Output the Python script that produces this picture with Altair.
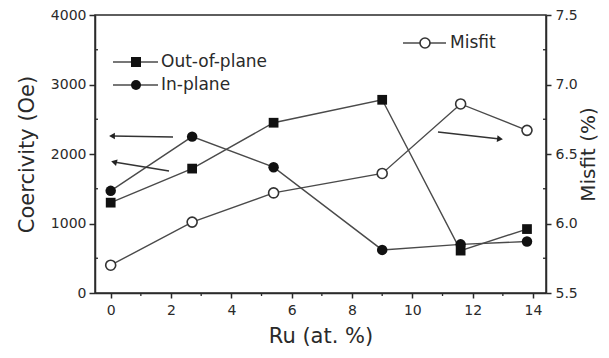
import altair as alt
import pandas as pd

# ---- data ----
ru = [0.0, 2.7, 5.4, 9.0, 11.6, 13.8]
out_of_plane = [1300, 1790, 2450, 2780, 610, 920]
in_plane = [1470, 2250, 1810, 620, 700, 740]
misfit = [5.70, 6.01, 6.22, 6.36, 6.86, 6.67]

x_ticks = [0, 2, 4, 6, 8, 10, 12, 14]
x_minor = [1, 3, 5, 7, 9, 11, 13]
left_ticks = [0, 1000, 2000, 3000, 4000]
left_minor = [500, 1500, 2500, 3500]
right_ticks = [5.5, 6.0, 6.5, 7.0, 7.5]
right_minor = [5.75, 6.25, 6.75, 7.25]

FONT = "DejaVu Sans"
INK = "#2a2a2a"
LINE = "#4a4a4a"

W, H = 451, 278
xdom = [-0.52, 14.43]

df_c = pd.DataFrame({"ru": ru, "out": out_of_plane, "inp": in_plane})
df_m = pd.DataFrame({"ru": ru, "misfit": misfit})

xscale = alt.Scale(domain=xdom, nice=False, zero=False)
x_enc = alt.X("ru:Q", scale=xscale, axis=alt.Axis(
    values=x_ticks, title="Ru (at. %)", format="d", grid=False,
    tickSize=5, tickWidth=1.5, tickColor=INK, labelPadding=5,
    titlePadding=8, domainColor=INK, domainWidth=1.5))

lscale = alt.Scale(domain=[0, 4000], nice=False, zero=False)
rscale = alt.Scale(domain=[5.5, 7.5], nice=False, zero=False)

left_axis = alt.Axis(values=left_ticks, title="Coercivity (Oe)", format="d",
                     grid=False, tickSize=6, tickWidth=1.5, tickColor=INK,
                     labelPadding=3, titlePadding=13, domainColor=INK,
                     domainWidth=1.5)
right_axis = alt.Axis(values=right_ticks, title="Misfit (%)", orient="right",
                      format=".1f", grid=False, tickSize=5, tickWidth=1.5,
                      tickColor=INK, labelPadding=4, titlePadding=1,
                      titleAngle=270, titleBaseline="top", titleFontSize=20,
                      domainColor=INK, domainWidth=1.5)

base_c = alt.Chart(df_c)
out_line = base_c.mark_line(color=LINE, strokeWidth=1.4).encode(
    x=x_enc, y=alt.Y("out:Q", scale=lscale, axis=left_axis))
out_pts = base_c.mark_point(shape="square", filled=True, color="#111", size=95, opacity=1).encode(
    x="ru:Q", y=alt.Y("out:Q", scale=lscale))
in_line = base_c.mark_line(color=LINE, strokeWidth=1.4).encode(
    x="ru:Q", y=alt.Y("inp:Q", scale=lscale))
in_pts = base_c.mark_point(shape="circle", filled=True, color="#111", size=110, opacity=1).encode(
    x="ru:Q", y=alt.Y("inp:Q", scale=lscale))

# minor ticks
df_xm = pd.DataFrame({"v": x_minor})
x_minor_rules = alt.Chart(df_xm).mark_rule(color=INK, strokeWidth=1.3).encode(
    x=alt.X("v:Q", scale=xscale), y=alt.value(H), y2=alt.value(H + 3))
df_lm = pd.DataFrame({"v": left_minor})
l_minor_rules = alt.Chart(df_lm).mark_rule(color=INK, strokeWidth=1.3).encode(
    y=alt.Y("v:Q", scale=lscale), x=alt.value(0), x2=alt.value(3))

# legend (left group)
leg = pd.DataFrame({
    "label": ["Out-of-plane", "In-plane"],
    "shape": ["square", "circle"],
    "ypix": [47, 70],
})
leg_lines = alt.Chart(leg).mark_rule(color=LINE, strokeWidth=1.4).encode(
    x=alt.value(18), x2=alt.value(63), y=alt.Y("ypix:Q", scale=None))
leg_pts = alt.Chart(leg).mark_point(filled=True, color="#111", opacity=1, size=100).encode(
    x=alt.value(41), y=alt.Y("ypix:Q", scale=None),
    shape=alt.Shape("shape:N", scale=None))
leg_txt = alt.Chart(leg).mark_text(align="left", baseline="middle", font=FONT,
                                   fontSize=17, color=INK).encode(
    x=alt.value(66), y=alt.Y("ypix:Q", scale=None), text="label:N")

# arrows (annotations)
arr = pd.DataFrame({
    "x1": [78, 74, 343], "y1": [122, 156, 117],
    "x2": [17, 19, 405], "y2": [121, 147, 124],
    "ang": [270, 284, 97],
})
arr_lines = alt.Chart(arr).mark_rule(color="#333", strokeWidth=1.6).encode(
    x=alt.X("x1:Q", scale=None), y=alt.Y("y1:Q", scale=None),
    x2="x2:Q", y2="y2:Q")
arr_heads = alt.Chart(arr).mark_point(shape="triangle-up", filled=True,
                                      color="#222", opacity=1, size=45).encode(
    x=alt.X("x2:Q", scale=None), y=alt.Y("y2:Q", scale=None),
    angle=alt.Angle("ang:Q", scale=None))

left_layer = alt.layer(out_line, in_line, out_pts, in_pts, x_minor_rules,
                       l_minor_rules, leg_lines, leg_pts, leg_txt,
                       arr_lines, arr_heads)

# misfit (right axis)
base_m = alt.Chart(df_m)
m_line = base_m.mark_line(color=LINE, strokeWidth=1.4).encode(
    x=alt.X("ru:Q", scale=xscale),
    y=alt.Y("misfit:Q", scale=rscale, axis=right_axis))
m_pts = base_m.mark_point(shape="circle", filled=True, fill="white",
                          stroke="#333", strokeWidth=1.6, size=100, opacity=1).encode(
    x="ru:Q", y=alt.Y("misfit:Q", scale=rscale))
df_rm = pd.DataFrame({"v": right_minor})
r_minor_rules = alt.Chart(df_rm).mark_rule(color=INK, strokeWidth=1.3).encode(
    y=alt.Y("v:Q", scale=rscale), x=alt.value(W - 3), x2=alt.value(W))

leg_m = pd.DataFrame({"label": ["Misfit"], "ypix": [28]})
mleg_line = alt.Chart(leg_m).mark_rule(color=LINE, strokeWidth=1.4).encode(
    x=alt.value(308), x2=alt.value(351), y=alt.Y("ypix:Q", scale=None))
mleg_pt = alt.Chart(leg_m).mark_point(shape="circle", filled=True, fill="white",
                                      stroke="#333", strokeWidth=1.6, size=100,
                                      opacity=1).encode(
    x=alt.value(330), y=alt.Y("ypix:Q", scale=None))
mleg_txt = alt.Chart(leg_m).mark_text(align="left", baseline="middle", font=FONT,
                                      fontSize=17, color=INK).encode(
    x=alt.value(355), y=alt.Y("ypix:Q", scale=None), text="label:N")

right_layer = alt.layer(m_line, m_pts, r_minor_rules, mleg_line, mleg_pt, mleg_txt)

chart = alt.layer(left_layer, right_layer).resolve_scale(
    y="independent"
).properties(
    width=W, height=H,
    autosize=alt.AutoSizeParams(type="none"),
    padding={"left": 87, "top": 7, "right": 55, "bottom": 57},
    background="white",
).configure_view(
    stroke=INK, strokeWidth=1.5
).configure_axis(
    labelFont=FONT, labelFontSize=14, labelColor=INK,
    titleFont=FONT, titleFontSize=21, titleColor=INK, titleFontWeight="normal",
)

chart.save("out.html", embed_options={"renderer": "svg", "actions": False})
